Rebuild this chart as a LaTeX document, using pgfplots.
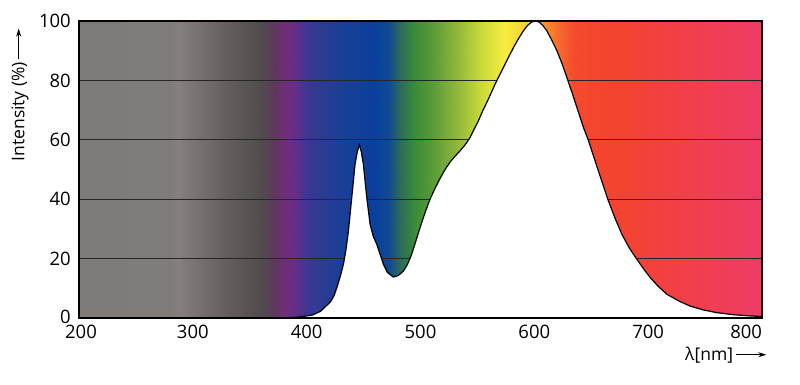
\documentclass[border=0pt]{standalone}
\usepackage{fontspec}
\setmainfont{Open Sans}
\usepackage{pgfplots}
\usepackage{pgfplotstable}
\pgfplotsset{compat=1.18}
\usetikzlibrary{arrows.meta}

\pgfplotsset{colormap={spec}{
 rgb255(200pt)=(127,123,120)
 rgb255(280pt)=(128,124,121)
 rgb255(288pt)=(133,128,127)
 rgb255(305pt)=(118,113,112)
 rgb255(332pt)=(98,93,92)
 rgb255(360pt)=(80,76,76)
 rgb255(372pt)=(95,55,95)
 rgb255(382pt)=(112,45,125)
 rgb255(390pt)=(100,45,135)
 rgb255(400pt)=(60,55,150)
 rgb255(412pt)=(45,59,144)
 rgb255(430pt)=(26,63,150)
 rgb255(460pt)=(10,63,156)
 rgb255(472pt)=(16,75,145)
 rgb255(482pt)=(45,106,90)
 rgb255(494pt)=(58,138,56)
 rgb255(511pt)=(90,156,56)
 rgb255(532pt)=(144,184,58)
 rgb255(552pt)=(200,216,58)
 rgb255(573pt)=(245,238,64)
 rgb255(595pt)=(250,200,55)
 rgb255(605pt)=(248,160,48)
 rgb255(620pt)=(247,110,45)
 rgb255(635pt)=(245,75,45)
 rgb255(650pt)=(245,70,45)
 rgb255(680pt)=(244,67,50)
 rgb255(710pt)=(243,64,64)
 rgb255(750pt)=(241,62,80)
 rgb255(800pt)=(238,60,105)
}}

\pgfplotstableread{
x y
200 0
280 0
288 0
305 0
332 0
360 0
372 0
382 0
390 0
400 0
412 0
430 0
460 0
472 0
482 0
494 0
511 0
532 0
552 0
573 0
595 0
605 0
620 0
635 0
650 0
680 0
710 0
750 0
800 0
200 100
280 100
288 100
305 100
332 100
360 100
372 100
382 100
390 100
400 100
412 100
430 100
460 100
472 100
482 100
494 100
511 100
532 100
552 100
573 100
595 100
605 100
620 100
635 100
650 100
680 100
710 100
750 100
800 100
}\bgtable

\pgfplotstableread{
x y
200 0
370 0
385 0.1
395 0.4
405 1.0
412 2.2
417 4.0
421 5.5
424 7.5
426.5 10.2
429.5 14
432.3 18.1
434.5 23
436.7 29.3
439.6 40.5
442.5 51.8
444.5 56
446.3 58.3
448 56
449.8 51.8
452.8 40.5
455.7 31.6
458.5 27.5
461.6 24.8
464.5 21.5
467.4 18.1
471 15.3
476.2 13.8
480.5 14.3
485 15.8
488.5 18
492.3 21.5
496 26
499.6 30.4
504 35.5
508.4 40
512.8 43.7
517.2 47
521.6 50
526 52.5
530.4 54.5
534.8 56.3
539.2 58.3
543.6 60.8
547 63.5
550.9 66.4
554.6 69.7
558.3 72.6
562 75.7
565.6 78.8
569.2 81.6
572.9 84.4
577.2 87.7
581.6 91
586 94
590.4 96.7
594 98.5
597.5 99.6
600.7 100
604 99.7
607.5 98.5
611 96.7
615.4 93.5
619.8 90
624.2 85.8
628.6 81
633 76
637.4 70.9
640.3 67.5
643.2 64.1
647.6 59.7
652 54.5
656.3 49.5
660.7 44.4
665.1 39.4
671 33.5
676.9 28.2
683.4 23.6
690 19.8
695.9 16.6
701.8 13.6
709 10.6
716.4 8
726.6 5.8
736.9 4
748.6 2.7
760.3 1.8
775 1.1
789.6 0.7
800 0.5
}\curve

\begin{document}
\begin{tikzpicture}
\useasboundingbox (-79pt,-67pt) rectangle (721pt,318pt);
\begin{axis}[
  at={(0pt,0pt)}, anchor=south west,
  scale only axis, width=683pt, height=297pt,
  xmin=200, xmax=800, ymin=0, ymax=100,
  clip=false,
  axis on top,
  xtick={200,300,...,800}, ytick={0,20,...,100},
  xticklabels={\hspace*{4pt}200,300,400,500,600,700,\makebox[0pt][r]{800}},
  yticklabels={\raisebox{3pt}{0},20,40,60,80,100},
  major tick length=0pt,
  /pgf/number format/assume math mode=true,
  tick label style={font=\fontsize{18.5}{21}\selectfont, color=black, inner sep=1pt},
  xticklabel shift=6pt, yticklabel shift=7pt,
  axis line style={line width=1.2pt, black},
  colormap name=spec,
  point meta min=200, point meta max=800,
  xlabel={λ[nm]\,\tikz[baseline=-0.6ex]\draw[line width=0.8pt,-{Stealth[length=8pt,width=5pt]}] (0,0) -- (30pt,0);},
  xlabel style={at={(axis description cs:1.0073,-0.1246)}, anchor=east, inner sep=0pt, font=\fontsize{17.5}{21}\selectfont},
  ylabel={Intensity (\%)\,\tikz[baseline=-0.6ex]\draw[line width=0.8pt,-{Stealth[length=8pt,width=5pt]}] (0,0) -- (30pt,0);},
  ylabel style={at={(axis description cs:-0.0864,0.9764)}, anchor=east, inner sep=0pt, font=\fontsize{17.5}{21}\selectfont},
]
\addplot[surf, shader=interp, mesh/rows=2, mesh/cols=29, point meta=x] table {\bgtable};
\pgfplotsinvokeforeach{20,40,60,80}{
  \addplot[line width=0.8pt, color=black!85] coordinates {(200,#1) (800,#1)};
}
\addplot[fill=white, draw=none] table {\curve} \closedcycle;
\addplot[black, line width=1.2pt] table {\curve};
\addplot[black, line width=2pt] coordinates {(200,0) (800,0)};
\end{axis}
\end{tikzpicture}
\end{document}
